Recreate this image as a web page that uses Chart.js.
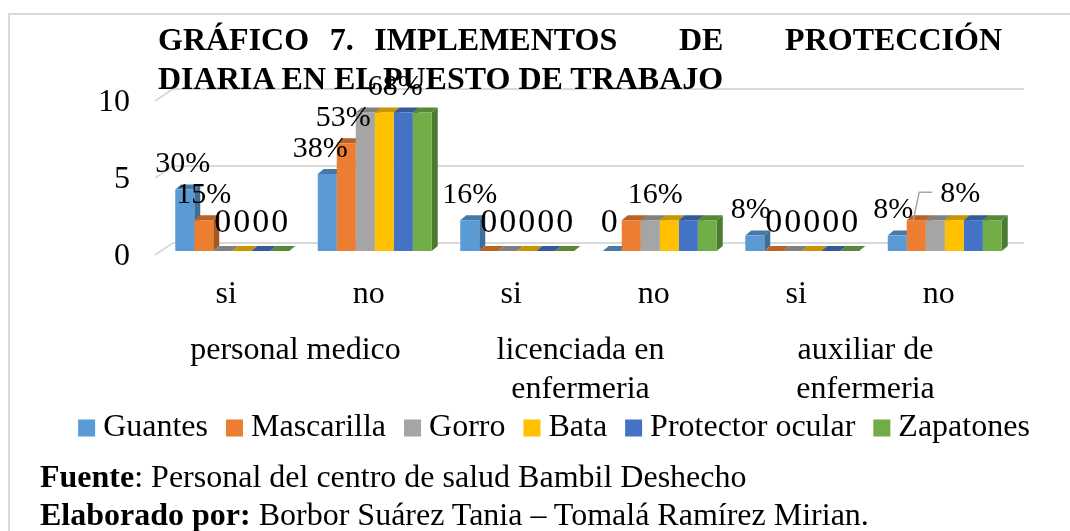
<!DOCTYPE html>
<html lang="es">
<head>
<meta charset="utf-8">
<style>
html,body{margin:0;padding:0;background:#fff;width:1070px;height:531px;overflow:hidden;font-family:"Liberation Serif",serif;color:#000}
#frame{position:absolute;left:8px;top:13px;width:1100px;height:560px;border:2px solid #d9d9d9;box-sizing:border-box}
canvas{position:absolute;left:0;top:0}
.title{position:absolute;left:158px;width:844px;font-weight:bold;font-size:32px;line-height:38px;white-space:pre-wrap}
.note{position:absolute;left:40px;font-size:32px;line-height:38px;white-space:nowrap}
</style>
</head>
<body>
<div id="frame"></div>
<canvas id="c" width="1070" height="531"></canvas>
<div class="title" style="top:20px;text-align:justify;text-align-last:justify">GRÁFICO 7. IMPLEMENTOS   DE   PROTECCIÓN</div>
<div class="title" style="top:59px">DIARIA EN EL PUESTO DE TRABAJO</div>
<div class="note" style="top:457px"><b>Fuente</b>: Personal del centro de salud Bambil Deshecho</div>
<div class="note" style="top:495px"><b>Elaborado por:</b> Borbor Suárez Tania – Tomalá Ramírez Mirian.</div>
<script src="https://cdn.jsdelivr.net/npm/chart.js@4"></script>
<script>
const categories = ['si','no','si','no','si','no'];
const groups = ['personal medico',['licenciada en','enfermeria'],['auxiliar de','enfermeria']];
const yTicks = [0,5,10];
const guantes    = [4,5,2,0,1,1];
const mascarilla = [2,7,0,2,0,2];
const gorro      = [0,9,0,2,0,2];
const bata       = [0,9,0,2,0,2];
const protector  = [0,9,0,2,0,2];
const zapatones  = [0,9,0,2,0,2];
const names  = ['Guantes','Mascarilla','Gorro','Bata','Protector ocular','Zapatones'];
const colors = ['#5B9BD5','#ED7D31','#A5A5A5','#FFC000','#4472C4','#70AD47'];
// printed data labels per series, per category ('' = none)
const labelTexts = [
  ['30%','38%','16%','0','8%','8%'],
  ['15%','53%','0','','0','8%'],
  ['0','68%','0','16%','0',''],
  ['0','','0','','0',''],
  ['0','','0','','0',''],
  ['0','','0','','0','']
];
// manual displacement of moved labels: series, category, dx, dy
const labelMoves = [[0,1,-7,0],[1,1,-3,0],[2,1,30,0],[2,3,5,0],[0,3,-3,0],[0,0,-2,0],[0,4,-4,0],[0,5,-4,0],[1,5,44,-1]];

const FONT = '"Liberation Serif", serif';
const depth = {x:6, y:5};
const wall = {x:12, y:8, frontX:6, frontY:4};
const LEGEND_SHIFT = {x:23, y:-24};

function shade(hex,f){
  const n=parseInt(hex.slice(1),16);
  return 'rgb('+[(n>>16)&255,(n>>8)&255,n&255].map(v=>Math.round(v*f)).join(',')+')';
}
const wallPlugin = {
  id:'wall3d',
  afterLayout(chart){
    const l=chart.legend;
    l.left+=LEGEND_SHIFT.x; l.right+=LEGEND_SHIFT.x;
    l.top+=LEGEND_SHIFT.y; l.bottom+=LEGEND_SHIFT.y;
  },
  beforeDatasetsDraw(chart){
    const {ctx,scales:{x,y}} = chart;
    ctx.save();
    ctx.strokeStyle='#d9d9d9'; ctx.lineWidth=2;
    yTicks.forEach(t=>{
      const py=y.getPixelForValue(t);
      ctx.beginPath();
      ctx.moveTo(x.left-wall.frontX,py+wall.frontY);
      ctx.lineTo(x.left+wall.x,py-wall.y);
      ctx.lineTo(x.right+wall.x-4,py-wall.y);
      ctx.stroke();
    });
    chart.data.datasets.forEach((ds,i)=>{
      chart.getDatasetMeta(i).data.forEach(b=>{
        const l=b.x-b.width/2,r=b.x+b.width/2,t=b.y,bt=b.base;
        ctx.fillStyle=shade(colors[i],0.7);
        ctx.beginPath();
        ctx.moveTo(r,bt);ctx.lineTo(r+depth.x,bt-depth.y);ctx.lineTo(r+depth.x,t-depth.y);ctx.lineTo(r,t);
        ctx.closePath();ctx.fill();
        ctx.fillStyle=shade(colors[i],0.78);
        ctx.beginPath();
        ctx.moveTo(l,t);ctx.lineTo(l+depth.x,t-depth.y);ctx.lineTo(r+depth.x,t-depth.y);ctx.lineTo(r,t);
        ctx.closePath();ctx.fill();
      });
    });
    ctx.restore();
  },
  afterDatasetsDraw(chart){
    const {ctx}=chart;
    ctx.save();
    ctx.fillStyle='#000'; ctx.textAlign='center'; ctx.textBaseline='middle';
    labelTexts.forEach((row,i)=>{
      const bars=chart.getDatasetMeta(i).data;
      row.forEach((txt,j)=>{
        if(!txt) return;
        const m=labelMoves.find(v=>v[0]===i&&v[1]===j)||[0,0,0,0];
        const isZero=txt==='0';
        ctx.font=(isZero?34:30)+'px '+FONT;
        ctx.fillText(txt,bars[j].x+m[2],bars[j].y-(isZero?28:25)+m[3]);
      });
    });
    // leader line of the moved label
    const b=chart.getDatasetMeta(1).data[5];
    ctx.strokeStyle='#a6a6a6'; ctx.lineWidth=1.5;
    ctx.beginPath();ctx.moveTo(b.x-3,b.y);ctx.lineTo(b.x+3,b.y-28);ctx.lineTo(b.x+16,b.y-28);ctx.stroke();
    ctx.restore();
  }
};

new Chart(document.getElementById('c'),{
  type:'bar',
  data:{
    labels:categories,
    datasets:[guantes,mascarilla,gorro,bata,protector,zapatones].map((d,i)=>({
      label:names[i],data:d,backgroundColor:colors[i],borderWidth:0,xAxisID:'x',yAxisID:'y',
      barPercentage:1,categoryPercentage:0.8
    }))
  },
  plugins:[wallPlugin],
  options:{
    responsive:false,animation:false,
    layout:{padding:{top:97,right:0,bottom:53,left:0}},
    plugins:{
      tooltip:{enabled:false},
      title:{display:false},
      legend:{
        position:'bottom',
        labels:{color:'#000',font:{family:FONT,size:32},usePointStyle:true,pointStyle:'rect',boxWidth:1,boxHeight:17,padding:26}
      }
    },
    scales:{
      y:{
        min:0,max:10,
        afterFit(s){s.width=161;},
        afterBuildTicks(s){s.ticks=yTicks.map(v=>({value:v}));},
        grid:{display:false},border:{display:false},
        ticks:{color:'#000',font:{family:FONT,size:32},padding:23,labelOffset:6,autoSkip:false}
      },
      yr:{
        position:'right',min:0,max:10,
        afterFit(s){s.width=54;},
        grid:{display:false},border:{display:false},
        ticks:{display:false}
      },
      x:{
        type:'category',weight:0,
        afterFit(s){s.height=62;},
        grid:{display:false},border:{display:false},
        ticks:{color:'#000',font:{family:FONT,size:32},padding:16,labelOffset:-6,maxRotation:0,autoSkip:false}
      },
      x2:{
        type:'category',labels:groups,position:'bottom',weight:1,offset:true,
        afterFit(s){s.height=97;},
        grid:{display:false},border:{display:false},
        ticks:{color:'#000',font:{family:FONT,size:32,lineHeight:1.19},padding:11,labelOffset:-8,maxRotation:0,autoSkip:false}
      }
    }
  }
});
</script>
</body>
</html>
